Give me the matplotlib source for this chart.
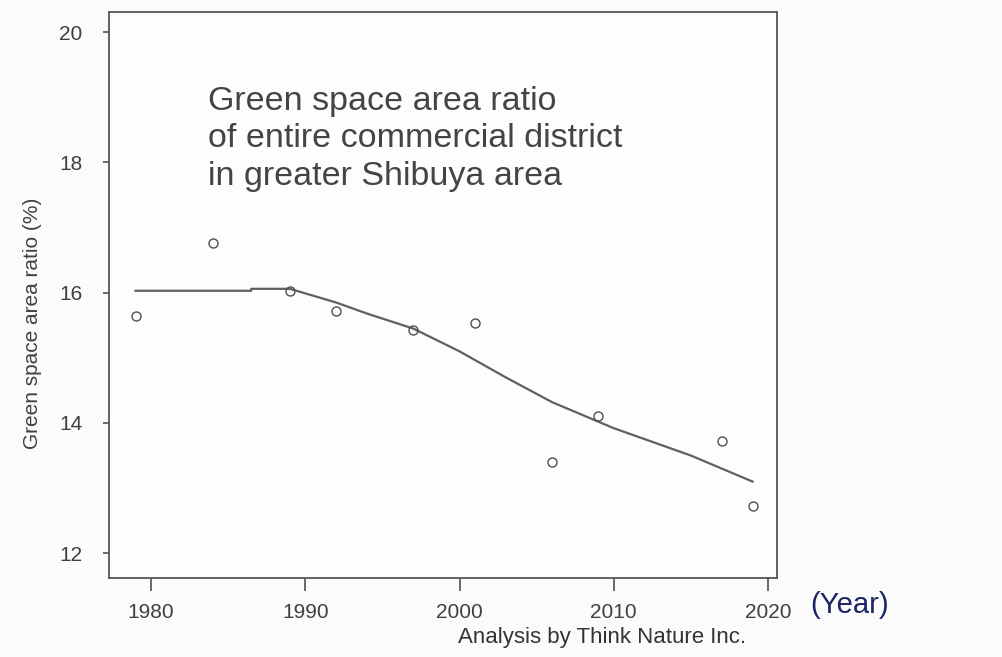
import matplotlib.pyplot as plt

plt.rcParams['font.family'] = ['Liberation Sans', 'DejaVu Sans']

# observed ratio per survey year
years = [1979, 1984, 1989, 1992, 1997, 2001, 2006, 2009, 2017, 2019]
ratio = [15.65, 16.77, 16.03, 15.72, 15.43, 15.54, 13.40, 14.11, 13.72, 12.72]

# smoothed trend line
trend_x = [1979, 1986.5, 1986.5, 1989, 1992, 1994, 1997, 2000, 2003, 2006, 2010, 2015, 2019]
trend_y = [16.03, 16.03, 16.06, 16.06, 15.85, 15.68, 15.45, 15.10, 14.70, 14.32, 13.92, 13.50, 13.10]

xticks = [1980, 1990, 2000, 2010, 2020]
yticks = [12, 14, 16, 18, 20]

fig = plt.figure(figsize=(10.02, 6.57), dpi=100, facecolor='#fbfbfb')
ax = fig.add_axes([109/1002, 1 - 578/657, 668/1002, 566/657])
ax.set_facecolor('#fdfdfd')

ax.plot(trend_x, trend_y, '-', color='#606060', lw=1.6)
ax.plot(years, ratio, 'o', mfc='none', mec='#505050', mew=1.0, ms=6.5)

ax.set_xlim(1977.28, 2020.58)
ax.set_ylim(11.62, 20.31)
ax.set_xticks(xticks)
ax.set_yticks(yticks)
ax.tick_params(axis='x', direction='out', length=9, width=1.2, color='#505050',
               labelsize=15, labelcolor='#404040', pad=9)
ax.tick_params(axis='y', direction='out', length=4, width=1.2, color='#505050',
               labelsize=15, labelcolor='#404040', pad=15)
for s in ax.spines.values():
    s.set_color('#555555')
    s.set_linewidth(1.3)

fig.text(33/1002, 1 - 323/657, 'Green space area ratio (%)', rotation=90, fontsize=15,
         color='#404040', va='center', ha='center')

ax.text(0.148, 0.776, 'Green space area ratio\nof entire commercial district\nin greater Shibuya area',
        transform=ax.transAxes, fontsize=24.5, color='#444444', va='center', ha='left',
        linespacing=1.27)

fig.text(810/1002, 1 - 605/657, '(Year)', fontsize=21, color='#1a2466', va='center', ha='left')
fig.text(458/1002, 1 - 638/657, 'Analysis by Think Nature Inc.', fontsize=16,
         color='#333333', va='center', ha='left')

fig.savefig('out.png', dpi=100, facecolor=fig.get_facecolor())
